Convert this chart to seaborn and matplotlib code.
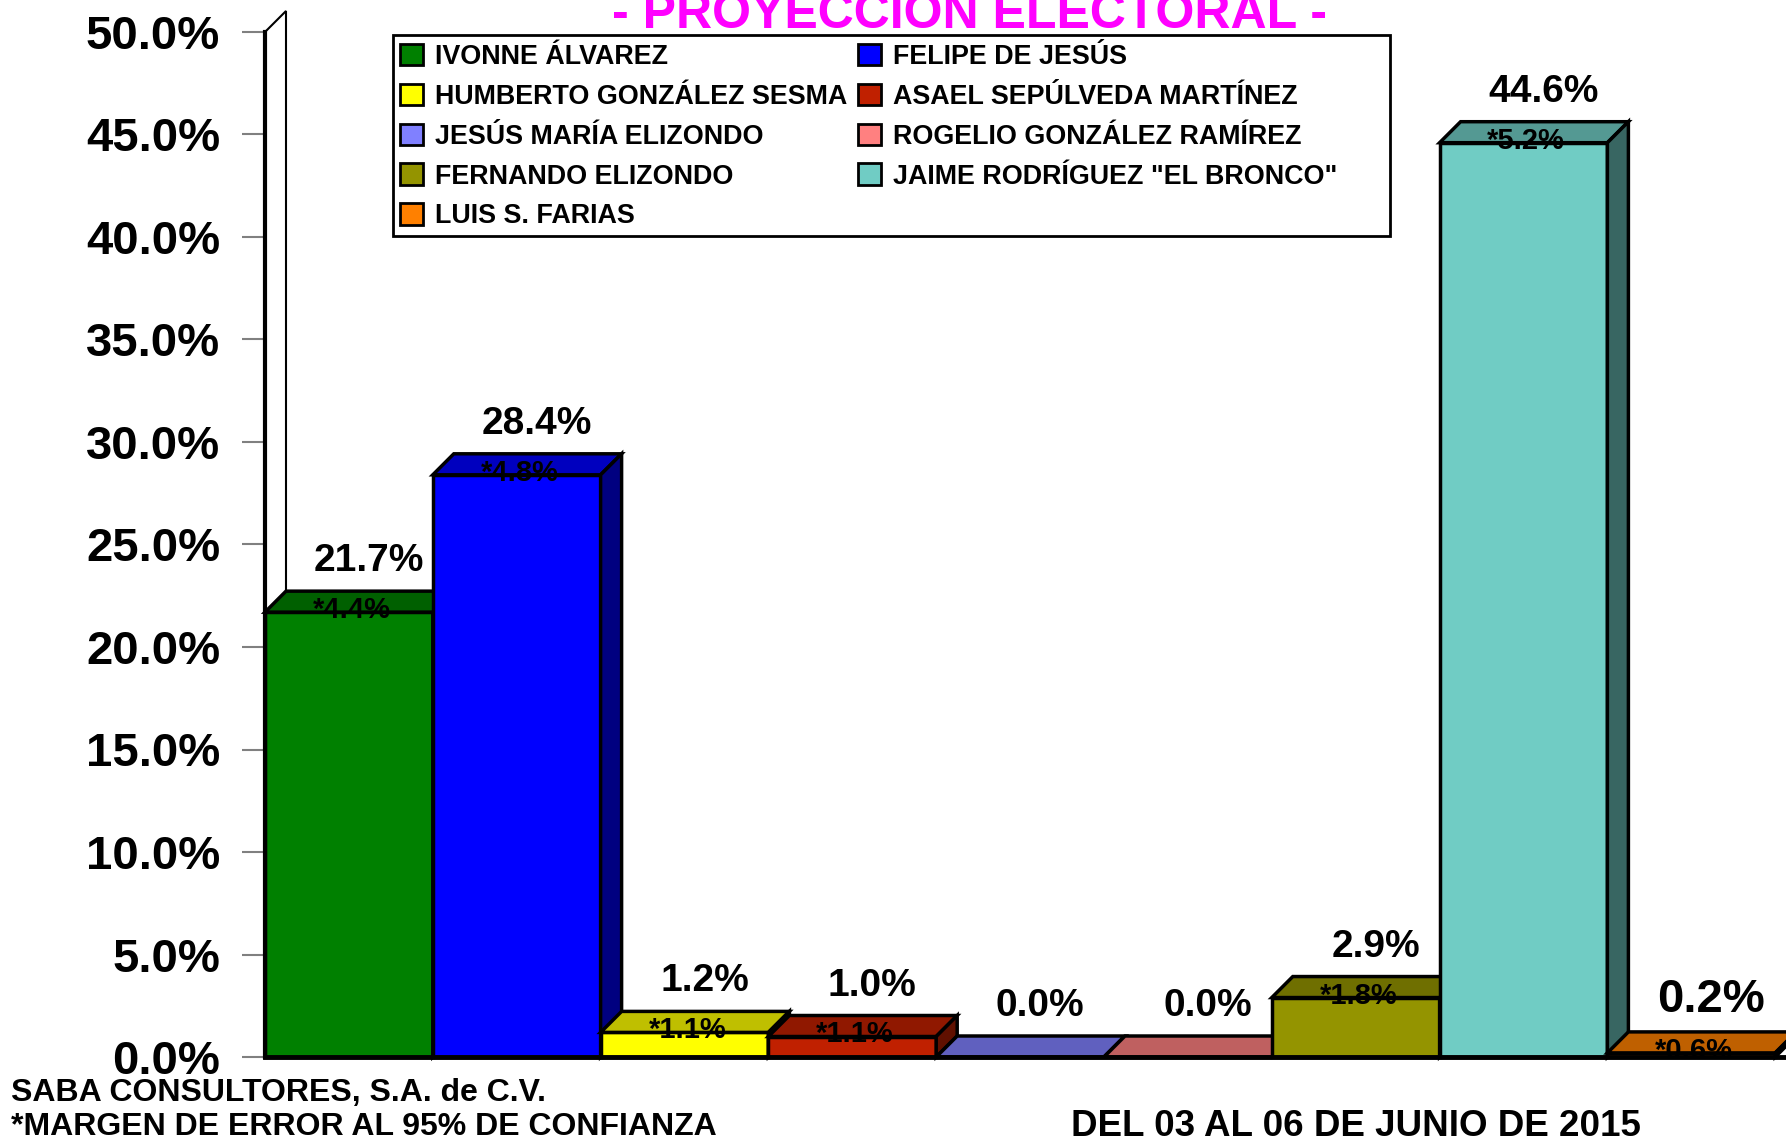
import matplotlib
matplotlib.use('Agg')
import matplotlib.pyplot as plt
import seaborn as sns
import pandas as pd
from matplotlib.patches import Polygon, Patch, Rectangle
from matplotlib.colors import to_rgb

# data
candidates = ['IVONNE ÁLVAREZ', 'FELIPE DE JESÚS', 'HUMBERTO GONZÁLEZ SESMA',
              'ASAEL SEPÚLVEDA MARTÍNEZ', 'JESÚS MARÍA ELIZONDO', 'ROGELIO GONZÁLEZ RAMÍREZ',
              'FERNANDO ELIZONDO', 'JAIME RODRÍGUEZ "EL BRONCO"', 'LUIS S. FARIAS']
percent = [21.7, 28.4, 1.2, 1.0, 0.0, 0.0, 2.9, 44.6, 0.2]
margin = [4.4, 4.8, 1.1, 1.1, None, None, 1.8, 5.2, 0.6]
colors = ['#008000', '#0000FF', '#FFFF00', '#C02000', '#8080FF',
          '#FF8080', '#949400', '#70CCC4', '#FF8000']
y_ticks = [0, 5, 10, 15, 20, 25, 30, 35, 40, 45, 50]

title = '- PROYECCIÓN ELECTORAL -'
source = 'SABA CONSULTORES, S.A. de C.V.'
note = '*MARGEN DE ERROR AL 95% DE CONFIANZA'
dates = 'DEL 03 AL 06 DE JUNIO DE 2015'

df = pd.DataFrame({'candidato': candidates, 'pct': percent})

sns.set_theme(style='white')
plt.rcParams['font.family'] = ['Liberation Sans', 'DejaVu Sans']
plt.rcParams['font.weight'] = 'bold'
plt.rcParams['text.color'] = 'black'

W, H = 1786, 1142
fig = plt.figure(figsize=(W / 100, H / 100), dpi=100)
ax = fig.add_axes([265 / W, 85 / H, 1521 / W, 1025 / H])

sns.barplot(data=df, x='candidato', y='pct', hue='candidato', palette=colors,
            saturation=1, width=1.0, edgecolor='black', linewidth=2.5,
            legend=False, ax=ax)

ax.set_xlim(-0.5, -0.5 + 1521 / 167.8)
ax.set_ylim(0, 50)

# 3d depth in data units (~21 px each way)
dx = 21 / 167.8
dy = 21 / 20.5

def shade(c, f):
    r, g, b = to_rgb(c)
    return (r * f, g * f, b * f)

bars = list(ax.patches[:len(percent)])

# side wall on the left
ax.add_patch(Polygon([(-0.5, 0), (-0.5, 50), (-0.5 + dx, 50 + dy), (-0.5 + dx, dy)],
                     closed=True, facecolor='white', edgecolor='black', lw=1.5,
                     zorder=1, clip_on=False))

for i, bar in enumerate(bars):
    x0 = bar.get_x()
    w = bar.get_width()
    v = bar.get_height()
    z = 2 + i * 0.1
    bar.set_zorder(z)
    bar.set_clip_on(False)
    top = Polygon([(x0, v), (x0 + w, v), (x0 + w + dx, v + dy), (x0 + dx, v + dy)],
                  closed=True, facecolor=shade(colors[i], 0.75), edgecolor='black',
                  lw=2.5, zorder=z + 0.01, clip_on=False)
    side = Polygon([(x0 + w, 0), (x0 + w + dx, dy), (x0 + w + dx, v + dy), (x0 + w, v)],
                   closed=True, facecolor=shade(colors[i], 0.5), edgecolor='black',
                   lw=2.5, zorder=z + 0.02, clip_on=False)
    ax.add_patch(top)
    ax.add_patch(side)

    xc = x0 + w / 2
    size = 34 if i == len(percent) - 1 else 28
    ax.annotate(f'{percent[i]:.1f}%', xy=(xc, v), xytext=(14.4, 29.5),
                textcoords='offset points', ha='center', va='baseline',
                fontsize=size, fontweight='bold', color='black', zorder=20,
                annotation_clip=False)
    if margin[i] is not None:
        ax.annotate(f'*{margin[i]:.1f}%', xy=(xc, v), xytext=(2, -4.3),
                    textcoords='offset points', ha='center', va='baseline',
                    fontsize=21, fontweight='bold', color='black', zorder=20,
                    annotation_clip=False)

# axes styling
sns.despine(ax=ax, top=True, right=True)
ax.spines['left'].set_linewidth(3)
ax.spines['left'].set_color('black')
ax.spines['left'].set_zorder(5)
ax.spines['bottom'].set_linewidth(3.5)
ax.spines['bottom'].set_color('black')
ax.spines['bottom'].set_zorder(30)
ax.set_xticks([])
ax.set_xlabel('')
ax.set_ylabel('')
ax.set_yticks(y_ticks)
ax.set_yticklabels([f'{t:.1f}%' for t in y_ticks], fontsize=34, fontweight='bold')
ax.tick_params(axis='y', direction='out', length=16.6, width=1.5, color='#808080',
               pad=15.8, labelcolor='black', left=True)
ax.grid(False)

# legend, row-major like the original
handles = [Patch(facecolor=c, edgecolor='black', lw=2) for c in colors]
order = [0, 2, 4, 6, 8, 1, 3, 5, 7]
leg = fig.legend([handles[k] for k in order], [candidates[k] for k in order],
                 loc='upper left', bbox_to_anchor=(400 / W, 1 - 44 / H), ncol=2,
                 frameon=False, prop={'size': 19.4, 'weight': 'bold'},
                 handlelength=0.85, handleheight=0.85, handletextpad=0.45,
                 columnspacing=0.4, labelspacing=0.51, borderaxespad=0, borderpad=0)
for t in leg.get_texts():
    t.set_color('black')
fig.add_artist(Rectangle((393 / W, 1 - 236 / H), (1390 - 393) / W, (236 - 35) / H,
                         transform=fig.transFigure, facecolor='none',
                         edgecolor='black', lw=2, zorder=40))

# title and footer texts
fig.text(970 / W, 1 - 28 / H, title, ha='center', va='baseline', fontsize=36,
         fontweight='bold', color='#FF00FF')
fig.text(11 / W, 1 - 1093 / H, source, ha='left', va='center', fontsize=23,
         fontweight='bold', color='black')
fig.text(11 / W, 1 - 1127 / H, note, ha='left', va='center', fontsize=23,
         fontweight='bold', color='black')
fig.text(1356 / W, 1 - 1126 / H, dates, ha='center', va='center', fontsize=26.5,
         fontweight='bold', color='black')

fig.savefig('out.png', dpi=100, facecolor='white')
plt.close(fig)
